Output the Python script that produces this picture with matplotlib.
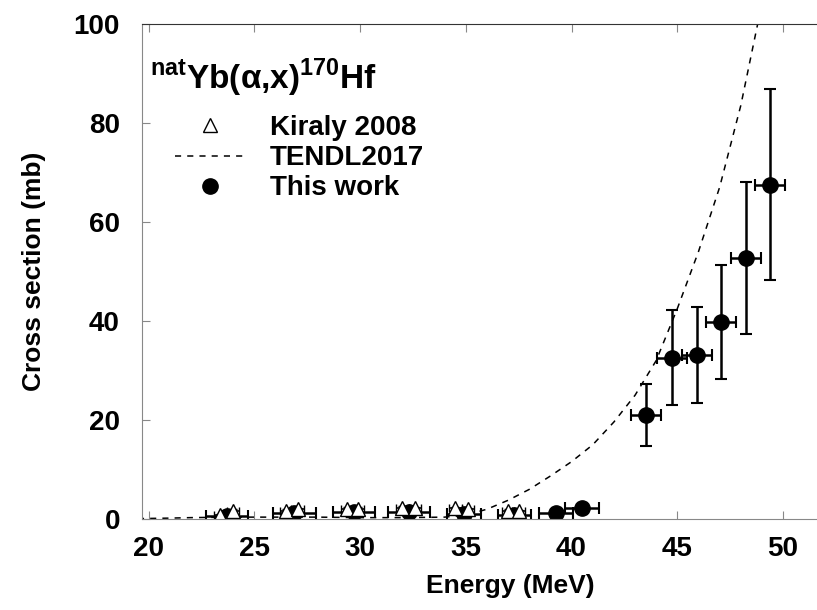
import numpy as np
import matplotlib
matplotlib.use('Agg')
import matplotlib.pyplot as plt
from matplotlib.lines import Line2D

plt.rcParams['font.family'] = ['Liberation Sans', 'DejaVu Sans']
plt.rcParams['mathtext.fontset'] = 'custom'
plt.rcParams['mathtext.rm'] = 'Liberation Sans'
plt.rcParams['mathtext.bf'] = 'Liberation Sans:bold'

# Kiraly 2008
kir_e = [23.4, 24.0, 26.5, 27.05, 29.4, 29.9, 32.0, 32.6, 34.5, 35.1, 37.0, 37.5]
kir_y = [0.8, 1.7, 1.7, 2.0, 2.1, 2.1, 2.3, 2.2, 2.2, 2.0, 1.7, 1.6]
kir_ye = [0.2, 0.3, 0.3, 0.3, 0.3, 0.3, 0.3, 0.3, 0.3, 0.3, 0.3, 0.3]
kir_xe = [0.3, 0.3, 0.3, 0.3, 0.3, 0.3, 0.3, 0.3, 0.3, 0.3, 0.3, 0.3]

# TENDL2017
tendl_e = [19.5, 21, 22, 24, 26, 28, 30, 32, 34, 35, 36, 37, 38, 39, 40, 41, 42, 43,
           44, 45, 46, 47, 48, 48.8, 49.3]
tendl_y = [0.1, 0.2, 0.3, 0.4, 0.4, 0.4, 0.3, 0.3, 0.4, 0.8, 2.0, 3.8, 6.0, 8.7, 11.6,
           15.0, 19.6, 25.0, 32.0, 42.5, 54.0, 67.0, 83.5, 100.0, 110.0]

# This work
tw_e = [23.7, 26.9, 29.7, 32.3, 34.9, 37.3, 39.26, 40.49, 43.52, 44.75, 45.93, 47.07, 48.25, 49.39]
tw_y = [0.6, 1.2, 1.4, 1.5, 1.0, 0.9, 1.3, 2.3, 21.0, 32.6, 33.1, 39.8, 52.7, 67.5]
tw_ye = [0.2, 0.3, 0.3, 0.3, 0.3, 0.3, 0.4, 0.5, 6.2, 9.6, 9.7, 11.5, 15.3, 19.3]
tw_xe = [1.0, 1.0, 1.0, 1.0, 0.8, 0.8, 0.8, 0.8, 0.7, 0.7, 0.7, 0.7, 0.7, 0.7]

fig = plt.figure(figsize=(8.17, 6.10), dpi=100)
# axes runs past the right edge of the figure, as in the original crop
ax = fig.add_axes([0.174, 0.149, 0.901, 0.812])

ax.plot(tendl_e, tendl_y, 'k--', lw=1.1, dashes=(4, 4))
ax.errorbar(tw_e, tw_y, yerr=tw_ye, xerr=tw_xe, fmt='o', color='k', ms=11,
            elinewidth=1.8, capsize=4, capthick=1.5)
ax.errorbar(kir_e, kir_y, yerr=kir_ye, xerr=kir_xe, fmt='^', mfc='white', mec='k',
            ecolor='k', ms=10, mew=1.0, elinewidth=1.2, capsize=3)

ax.set_xlim(19.7, 54.5)
ax.set_ylim(0, 100)
ax.set_xticks([20, 25, 30, 35, 40, 45, 50])
ax.set_yticks([0, 20, 40, 60, 80, 100])
ax.tick_params(direction='in', top=True, right=False, labelsize=20, color='#888888',
               length=6)
ax.tick_params(axis='y', pad=16)
ax.tick_params(axis='x', pad=12)
for lab in ax.get_xticklabels() + ax.get_yticklabels():
    lab.set_fontweight('bold')
for s in ['left', 'bottom']:
    ax.spines[s].set_color('#888888')
ax.spines['top'].set_color('#333333')
ax.spines['right'].set_visible(False)

ax.set_xlabel('Energy (MeV)', fontsize=19, fontweight='bold', labelpad=9)
ax.set_ylabel('Cross section (mb)', fontsize=19, fontweight='bold', labelpad=20)

ax.text(0.011, 0.89, r'$^{\mathbf{nat}}$Yb(α,x)$^{\mathbf{170}}$Hf', transform=ax.transAxes,
        fontsize=24, va='center', ha='left', fontweight='bold')

handles = [Line2D([], [], ls='none', marker='^', mfc='white', mec='k', ms=10),
           Line2D([], [], ls='--', color='k', lw=1.1, dashes=(4, 4)),
           Line2D([], [], ls='none', marker='o', color='k', ms=11)]
ax.legend(handles, ['Kiraly 2008', 'TENDL2017', 'This work'], loc='upper left',
          bbox_to_anchor=(0.0185, 0.855), frameon=False, handlelength=2.5,
          prop={'size': 20, 'weight': 'bold'}, labelspacing=0.15, handletextpad=0.9,
          borderpad=0.2)

fig.savefig('out.png', dpi=100)
